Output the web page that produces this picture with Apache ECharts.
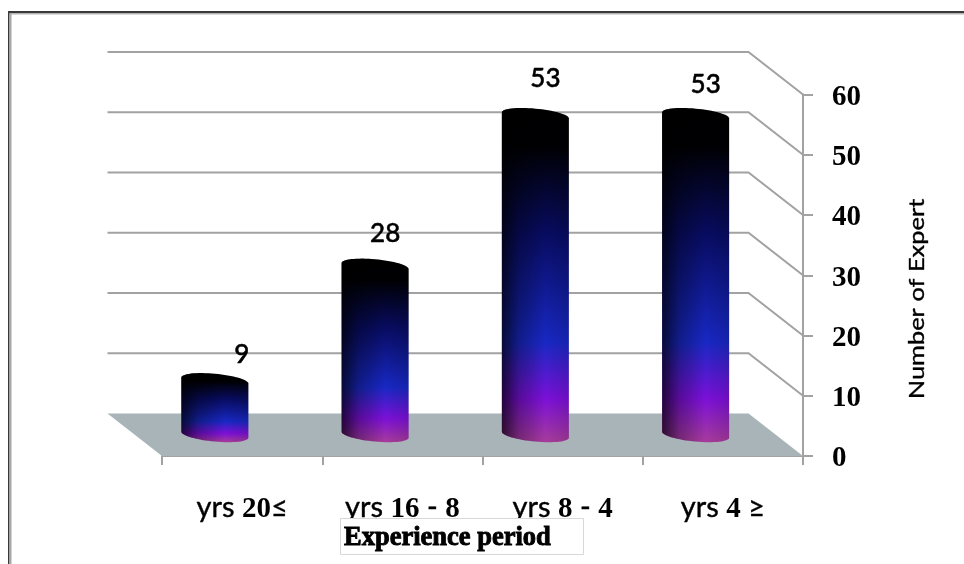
<!DOCTYPE html>
<html>
<head>
<meta charset="utf-8">
<style>html,body{margin:0;padding:0;background:#fff}#chart{width:964px;height:564px}</style>
<script src="https://cdn.jsdelivr.net/npm/echarts@6/dist/echarts.min.js"></script>
</head>
<body>
<div id="chart"></div>
<script>
// Experience bands and how many experts fall in each
const periods = ['yrs 20≤', 'yrs 16 - 8', 'yrs 8 - 4', 'yrs 4 ≥'];
const experts = [9, 28, 53, 53];
const gridTicks = [10, 20, 30, 40, 50, 60];
const axisTitleX = 'Experience period';
const axisTitleY = 'Number of Expert';

// Oblique projection of the chart box
const DEPTH_X = -54.5, DEPTH_Y = -42.5;
const LINE = '#a2a2a2';
const LATO = 'Lato, "Open Sans", sans-serif';
const SERIF = '"Liberation Serif", serif';

// Hand-placed value labels, relative to the top centre of each cylinder
const labelNudge = [[27, -26], [10, -32], [10, -37], [10, -31]];

// Tilted ellipse outline, t in radians
function rimPoint(cx, cy, rx, ry, t) {
  return [cx + rx * Math.cos(t), cy + ry * Math.sin(t) + 3 * Math.cos(t)];
}

function cylinderOutline(cx, topY, baseY, rx, ry) {
  const pts = [];
  const n = 32;
  for (let i = 0; i <= n; i++) pts.push(rimPoint(cx, topY, rx, ry, Math.PI + Math.PI * i / n));
  for (let i = 0; i <= n; i++) pts.push(rimPoint(cx, baseY, rx, ry, Math.PI * i / n));
  return pts;
}

function renderFloor(params, api) {
  const g = params.coordSys;
  const x0 = g.x, x1 = g.x + g.width, y0 = api.coord([0, 0])[1];
  return {
    type: 'polygon',
    shape: { points: [[x0, y0], [x1, y0], [x1 + DEPTH_X, y0 + DEPTH_Y], [x0 + DEPTH_X, y0 + DEPTH_Y]] },
    style: { fill: '#a8b4b8' }
  };
}

function renderGridLine(params, api) {
  const g = params.coordSys;
  const y = api.coord([0, api.value(0)])[1];
  const x0 = g.x, x1 = g.x + g.width;
  return {
    type: 'polyline',
    shape: { points: [[x0 + DEPTH_X, y + DEPTH_Y], [x1 + DEPTH_X, y + DEPTH_Y], [x1, y]] },
    style: { stroke: LINE, lineWidth: 2, fill: null }
  };
}

function renderCylinder(params, api) {
  const idx = api.value(0);
  const val = api.value(1);
  const top = api.coord([idx, val]);
  const base = api.coord([idx, 0]);
  const cx = top[0] + DEPTH_X / 2;
  const topY = top[1] + DEPTH_Y / 2;
  const baseY = base[1] + DEPTH_Y / 2;
  const rx = 33.5, ry = 6.8;
  const pts = cylinderOutline(cx, topY, baseY, rx, ry);
  const nudge = labelNudge[params.dataIndex];
  return {
    type: 'group',
    children: [
      {
        type: 'polygon',
        shape: { points: pts },
        style: {
          fill: new echarts.graphic.LinearGradient(0, 0, 0, 1, [
            { offset: 0, color: '#000000' },
            { offset: 0.12, color: '#000004' },
            { offset: 0.38, color: '#080c62' },
            { offset: 0.70, color: '#1828c4' },
            { offset: 0.87, color: '#7c10d8' },
            { offset: 1, color: '#a83c9c' }
          ])
        }
      },
      {
        type: 'polygon',
        shape: { points: pts },
        style: {
          fill: new echarts.graphic.LinearGradient(0, 0, 1, 0, [
            { offset: 0, color: 'rgba(0,0,0,0.72)' },
            { offset: 0.25, color: 'rgba(0,0,0,0.3)' },
            { offset: 0.65, color: 'rgba(0,0,0,0)' },
            { offset: 1, color: 'rgba(0,0,0,0.12)' }
          ])
        }
      },
      {
        type: 'text',
        x: cx + nudge[0],
        y: topY + nudge[1],
        style: {
          text: String(val),
          font: '500 26px ' + LATO,
          fill: '#000',
          stroke: '#000',
          lineWidth: 0.5,
          align: 'center',
          verticalAlign: 'middle'
        }
      }
    ]
  };
}

const chart = echarts.init(document.getElementById('chart'), null, { renderer: 'canvas' });

chart.setOption({
  animation: false,
  backgroundColor: '#fff',
  grid: { left: 162, right: 161, top: 94.5, bottom: 108 },
  xAxis: {
    type: 'category',
    data: periods,
    boundaryGap: true,
    axisLine: { lineStyle: { color: LINE, width: 2 } },
    axisTick: { show: true, alignWithLabel: false, length: 9, lineStyle: { color: LINE, width: 2 } },
    axisLabel: {
      margin: 35,
      interval: 0,
      // Words and signs set in a sans face, numerals in bold serif
      formatter: v => v.split(/(\d+)/).map(p => p === '' ? '' : (/\d/.test(p) ? '{n|' + p + '}' : '{w|' + p + '}')).join(''),
      rich: {
        w: { fontFamily: LATO, fontSize: 29, lineHeight: 34, color: '#000', textBorderColor: '#000', textBorderWidth: 0.4 },
        n: { fontFamily: SERIF, fontWeight: 'bold', fontSize: 29, lineHeight: 34, padding: [3, 0, 0, 0], color: '#000' }
      },
      fontFamily: LATO,
      fontSize: 29,
      color: '#000'
    }
  },
  yAxis: {
    type: 'value',
    position: 'right',
    min: 0,
    max: 60,
    interval: 10,
    splitLine: { show: false },
    axisLine: { show: true, lineStyle: { color: LINE, width: 2 } },
    axisTick: { show: true, length: 10, lineStyle: { color: LINE, width: 2 } },
    axisLabel: {
      margin: 29,
      formatter: '{v|{value}}',
      rich: { v: { fontFamily: SERIF, fontWeight: 'bold', fontSize: 29, padding: [6, 0, 0, 0], color: '#000' } }
    }
  },
  series: [
    { type: 'custom', renderItem: renderFloor, data: [[0]], silent: true, z: 1 },
    { type: 'custom', renderItem: renderGridLine, data: gridTicks.map(t => [t]), silent: true, z: 2 },
    {
      type: 'custom',
      renderItem: renderCylinder,
      encode: { x: 0, y: 1 },
      data: experts.map((v, i) => [i, v]),
      clip: false,
      z: 3
    }
  ],
  graphic: [
    // Outer frame: top and left edges only
    { type: 'rect', shape: { x: 8, y: 11, width: 956, height: 2 }, style: { fill: '#3a3a3a' } },
    { type: 'rect', shape: { x: 8, y: 13, width: 956, height: 1.5 }, style: { fill: '#b4b4b4' } },
    { type: 'rect', shape: { x: 8, y: 11, width: 1.5, height: 553 }, style: { fill: '#3a3a3a' } },
    { type: 'rect', shape: { x: 9.5, y: 13, width: 2, height: 551 }, style: { fill: '#a8a8a8' } },
    // Horizontal axis title in its box
    {
      type: 'rect',
      shape: { x: 340.5, y: 518.5, width: 243, height: 36 },
      style: { fill: '#fff', stroke: '#d8d8d8', lineWidth: 1 },
      z: 10
    },
    {
      type: 'text', x: 344, y: 538.5, z: 11,
      style: { text: axisTitleX, font: 'bold 26.5px ' + SERIF, fill: '#000', verticalAlign: 'middle', stroke: '#000', lineWidth: 0.9 }
    },
    // Vertical axis title, drawn long and narrow
    {
      type: 'text', x: 917, y: 299, rotation: Math.PI / 2, scaleX: 1.155, z: 10,
      style: { text: axisTitleY, font: '22px ' + LATO, fill: '#000', stroke: '#000', lineWidth: 0.35, align: 'center', verticalAlign: 'middle' }
    }
  ]
});
</script>
</body>
</html>
